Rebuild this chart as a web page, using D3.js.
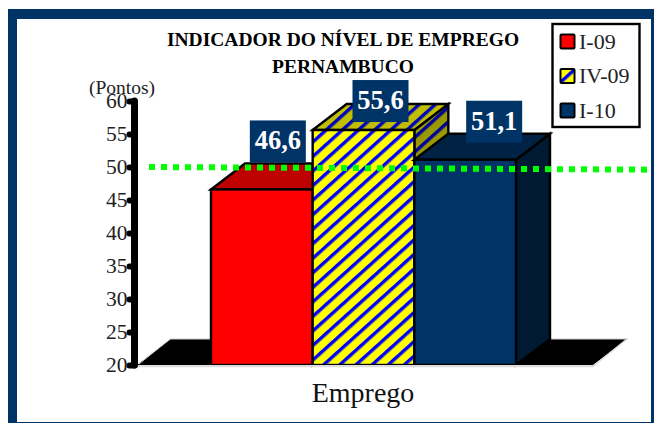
<!DOCTYPE html>
<html>
<head>
<meta charset="utf-8">
<script src="https://cdn.jsdelivr.net/npm/d3@7"></script>
<style>
  body { margin: 0; background: #fff; }
  text { font-family: "Liberation Serif", serif; }
</style>
</head>
<body>
<script>
const categories = ['I-09', 'IV-09', 'I-10']
const values = [46.6, 55.6, 51.1]
const valueLabels = ['46,6', '55,6', '51,1']
const yTicks = [20, 25, 30, 35, 40, 45, 50, 55, 60]
const refLine = [50, 49.6]
const titleLines = ['INDICADOR DO NÍVEL DE EMPREGO', 'PERNAMBUCO']

const width = 654
const height = 423
const depthX = 34
const depthY = 26

const svg = d3.select('body').append('svg')
    .attr('width', width)
    .attr('height', height)
    .style('display', 'block')

// stripes for IV-09, the 3d faces just use darker colours
function stripes (id, bg, fg) {
    const p = svg.append('defs').append('pattern')
        .attr('id', id)
        .attr('patternUnits', 'userSpaceOnUse')
        .attr('width', 10.8)
        .attr('height', 10.8)
        .attr('patternTransform', 'rotate(-42)')
    p.append('rect').attr('width', 10.8).attr('height', 10.8).attr('fill', bg)
    p.append('rect').attr('width', 10.8).attr('height', 3.4).attr('fill', fg)
}
stripes('st-front', '#ffff00', '#0000ff')
stripes('st-top', '#bfbf00', '#0000bf')
stripes('st-side', '#999900', '#00009f')

const faces = [
    { front: '#ff0000', top: '#bf0000', side: '#7f0000' },
    { front: 'url(#st-front)', top: 'url(#st-top)', side: 'url(#st-side)' },
    { front: '#003366', top: '#002244', side: '#001a33' }
]

// frame
svg.append('rect').attr('x', 8).attr('y', 9).attr('width', 646).attr('height', 414).attr('fill', '#003366')
svg.append('rect').attr('x', 17).attr('y', 19).attr('width', 634).attr('height', 403).attr('fill', '#fff')

const x = d3.scaleBand().domain(categories).range([211, 516])
const y = d3.scaleLinear().domain([20, 60]).range([365, 101])

// floor
const floor = [[137, 365], [137 + depthX, 365 - depthY], [593 + depthX, 365 - depthY], [593, 365]]
svg.append('path')
    .attr('d', d3.line()(floor) + 'Z')
    .attr('fill', '#000')
svg.append('path')
    .attr('d', d3.line()([[137, 366.5], [593, 366.5], [627, 339]]))
    .attr('fill', 'none')
    .attr('stroke', '#ddd')
    .attr('stroke-width', 1.5)
svg.append('path')
    .attr('d', d3.line()([[139, 364], [170, 339], [628, 339]]))
    .attr('fill', 'none')
    .attr('stroke', '#ccc')
    .attr('stroke-width', 1)

// bars, drawn left to right so the front of the next one covers the side
const bars = svg.selectAll('.bar')
    .data(categories)
    .join('g')
    .attr('class', 'bar')
    .attr('stroke', '#000')
    .attr('stroke-width', 2.4)
    .attr('stroke-linejoin', 'miter')

bars.append('path')
    .attr('fill', (d, i) => faces[i].side)
    .attr('d', (d, i) => {
        const r = x(d) + x.bandwidth()
        const t = y(values[i])
        return d3.line()([[r, t], [r + depthX, t - depthY], [r + depthX, y(20) - depthY], [r, y(20)]]) + 'Z'
    })
bars.append('path')
    .attr('fill', (d, i) => faces[i].top)
    .attr('d', (d, i) => {
        const l = x(d)
        const r = l + x.bandwidth()
        const t = y(values[i])
        return d3.line()([[l, t], [l + depthX, t - depthY], [r + depthX, t - depthY], [r, t]]) + 'Z'
    })
bars.append('rect')
    .attr('fill', (d, i) => faces[i].front)
    .attr('x', d => x(d))
    .attr('y', (d, i) => y(values[i]))
    .attr('width', x.bandwidth())
    .attr('height', (d, i) => y(20) - y(values[i]))

// bottom edge of the bars is not outlined in the original
svg.append('line')
    .attr('x1', 135).attr('x2', 593)
    .attr('y1', 366).attr('y2', 366)
    .attr('stroke', '#ddd')
    .attr('stroke-width', 2)

// value labels were moved by hand in the original
const labelNudge = [[-1, -48], [0, -29], [12, -38]]
const labels = svg.selectAll('.lab')
    .data(values)
    .join('g')
    .attr('class', 'lab')
    .attr('transform', (d, i) => {
        const cx = x(categories[i]) + x.bandwidth() / 2 + depthX / 2 + labelNudge[i][0]
        return `translate(${cx},${y(d) + labelNudge[i][1]})`
    })
labels.append('rect')
    .attr('x', -28).attr('y', -21)
    .attr('width', 56).attr('height', 42)
    .attr('fill', '#003366')
labels.append('text')
    .attr('text-anchor', 'middle')
    .attr('y', 8)
    .attr('fill', '#fff')
    .attr('font-weight', 'bold')
    .attr('font-size', 26.5)
    .text((d, i) => valueLabels[i])

// reference line
svg.append('path')
    .attr('d', d3.line()([[149, y(refLine[0])], [647, y(refLine[1])]]))
    .attr('fill', 'none')
    .attr('stroke', '#00ff00')
    .attr('stroke-width', 6)
    .attr('stroke-dasharray', '6 6')

// axis
const yAxis = svg.append('g')
    .attr('transform', 'translate(134.5,0)')
    .call(d3.axisLeft(y).tickValues(yTicks).tickSize(5).tickPadding(2))
yAxis.select('.domain')
    .attr('d', `M0,${y(60)}V${y(20)}`)
    .attr('stroke', '#000')
    .attr('stroke-width', 7)
    .attr('stroke-linecap', 'round')
yAxis.selectAll('.tick line')
    .attr('stroke', '#000')
    .attr('stroke-width', 6)
    .attr('stroke-linecap', 'round')
yAxis.selectAll('.tick text')
    .attr('fill', '#222')
    .attr('font-size', 21.5)
    .style('font-family', '"Liberation Serif", serif')

svg.append('text')
    .attr('x', 122).attr('y', 94)
    .attr('text-anchor', 'middle')
    .attr('fill', '#222')
    .attr('font-size', 19.5)
    .text('(Pontos)')

// title
svg.selectAll('.title')
    .data(titleLines)
    .join('text')
    .attr('class', 'title')
    .attr('x', 343)
    .attr('y', (d, i) => 46 + i * 26.5)
    .attr('text-anchor', 'middle')
    .attr('font-weight', 'bold')
    .attr('font-size', 19.5)
    .text(d => d)

svg.append('text')
    .attr('x', 363).attr('y', 402)
    .attr('text-anchor', 'middle')
    .attr('fill', '#111')
    .attr('font-size', 28)
    .text('Emprego')

// legend
svg.append('rect')
    .attr('x', 552.5).attr('y', 24)
    .attr('width', 87).attr('height', 103)
    .attr('fill', '#fff')
    .attr('stroke', '#000')
    .attr('stroke-width', 2.4)
const legendY = d3.scalePoint().domain(categories).range([41.5, 110.5])
const items = svg.selectAll('.leg')
    .data(categories)
    .join('g')
    .attr('class', 'leg')
    .attr('transform', d => `translate(0,${legendY(d)})`)
items.append('rect')
    .attr('x', 560.5).attr('y', -7)
    .attr('width', 14).attr('height', 14)
    .attr('rx', 1)
    .attr('fill', (d, i) => faces[i].front)
    .attr('stroke', '#000')
    .attr('stroke-width', 2)
items.append('text')
    .attr('x', 579).attr('y', 7)
    .attr('fill', '#222')
    .attr('font-size', 22)
    .text(d => d)
</script>
</body>
</html>
